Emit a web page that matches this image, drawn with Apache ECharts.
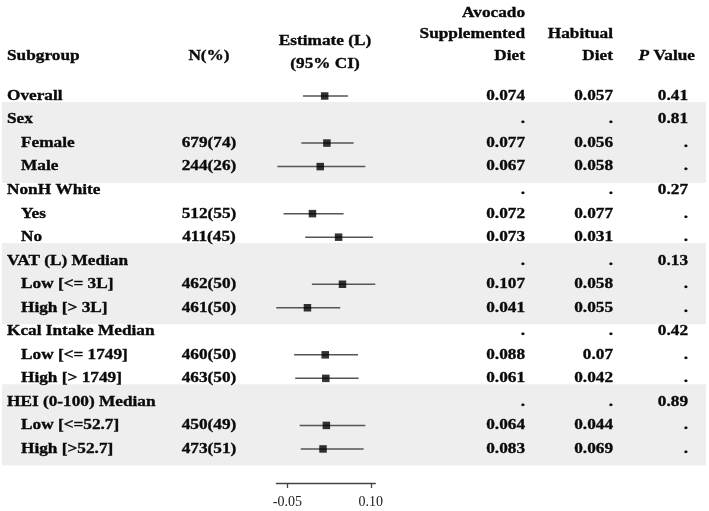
<!DOCTYPE html>
<html><head><meta charset="utf-8">
<script src="https://cdn.jsdelivr.net/npm/echarts@6/dist/echarts.min.js"></script>
<style>html,body{margin:0;padding:0;background:#fff}#c{width:709px;height:511px}</style>
</head><body><div id="c"></div>
<script>
// ---------- data ----------
const subgroups = ['Overall','Sex','Female','Male','NonH White','Yes','No','VAT (L) Median','Low [<= 3L]','High [> 3L]','Kcal Intake Median','Low [<= 1749]','High [> 1749]','HEI (0-100) Median','Low [<=52.7]','High [>52.7]'];
const levels = [0,0,1,1,0,1,1,0,1,1,0,1,1,0,1,1];
const nPct = ['','','679(74)','244(26)','','512(55)','411(45)','','462(50)','461(50)','','460(50)','463(50)','','450(49)','473(51)'];
const avocado = ['0.074','.','0.077','0.067','.','0.072','0.073','.','0.107','0.041','.','0.088','0.061','.','0.064','0.083'];
const habitual = ['0.057','.','0.056','0.058','.','0.077','0.031','.','0.058','0.055','.','0.07','0.042','.','0.044','0.069'];
const pValues = ['0.41','0.81','.','.','0.27','.','.','0.13','.','.','0.42','.','.','0.89','.','.'];
const estRows = [0,2,3,5,6,8,9,11,12,14,15];
const estimate = [0.017,0.021,0.009,-0.005,0.042,0.049,-0.014,0.018,0.019,0.020,0.014];
const ciLow = [-0.022,-0.025,-0.068,-0.057,-0.018,-0.006,-0.070,-0.038,-0.036,-0.028,-0.026];
const ciHigh = [0.059,0.069,0.090,0.051,0.104,0.108,0.045,0.077,0.078,0.090,0.087];
const axisTicks = [-0.05, 0.10];
const shadedGroups = ['Sex','VAT (L) Median','HEI (0-100) Median'];
const headSubgroup = ['Subgroup'];
const headN = ['N(%)'];
const headEstimate = ['Estimate (L)','(95% CI)'];
const headAvocado = ['Avocado','Supplemented','Diet'];
const headHabitual = ['Habitual','Diet'];
const headP = ['{i|P} Value'];

// ---------- layout ----------
const W = 709, H = 511;
const ROW0 = 96, ROWH = 23.53, YMIN = -1, YMAX = 16.45;
const gridTop = ROW0 + YMIN*ROWH;
const gridBot = H - (ROW0 + YMAX*ROWH);
const FAM = "'Liberation Serif','Times New Roman',serif";
const FONT = "bold 15px " + FAM;
const INK = '#0a0a0a';
const SX = 1.15;
const COL = {sub0:7, sub1:21, n:209, avo:525, hab:613, p:688};

function txt(x, y, text, align, extra){
  return Object.assign({type:'text', x:x, y:y, scaleX:SX, silent:true,
    style:{text:text, x:0, y:0, font:FONT, fill:INK, stroke:INK, lineWidth:0.35,
      align:align, textAlign:align, verticalAlign:'middle', textVerticalAlign:'middle'}}, extra||{});
}

const headerSpecs = [
  {lines:headSubgroup, x:7, align:'left', last:56, gap:21.5},
  {lines:headN, x:209, align:'center', last:56, gap:21.5},
  {lines:headEstimate, x:325, align:'center', last:64, gap:22.5},
  {lines:headAvocado, x:525, align:'right', last:56, gap:21.5},
  {lines:headHabitual, x:613, align:'right', last:56, gap:21.5},
  {lines:headP, x:695, align:'right', last:56, gap:21.5}
];
const graphics = [];
headerSpecs.forEach(h => {
  h.lines.forEach((l, k) => {
    const y = h.last - (h.lines.length-1-k)*h.gap;
    const g = txt(h.x, y, l, h.align);
    g.style.rich = {i:{font:"italic bold 15px " + FAM, fill:INK, textStroke:INK, textStrokeWidth:0.35}};
    graphics.push(g);
  });
});

const bandRows = shadedGroups.map(g => subgroups.indexOf(g));

const chart = echarts.init(document.getElementById('c'), null, {renderer:'canvas'});
chart.setOption({
  animation:false,
  backgroundColor:'#fff',
  graphic: graphics,
  grid:[
    {left:0, right:0, top:gridTop, bottom:gridBot},
    {left:276.3, width:99, top:gridTop, bottom:gridBot}
  ],
  xAxis:[
    {gridIndex:0, type:'value', min:0, max:W, show:false},
    {gridIndex:1, type:'value', position:'bottom', min:Math.min(...ciLow), max:Math.max(...ciHigh),
      axisLine:{show:true, onZero:false, lineStyle:{color:'#444', width:1.3}},
      axisTick:{show:true, customValues:axisTicks, length:5, inside:false, lineStyle:{color:'#444', width:1.3}},
      axisLabel:{show:true, customValues:axisTicks, formatter:v => v.toFixed(2), fontFamily:FAM, fontSize:14, color:'#222', margin:12},
      splitLine:{show:false}}
  ],
  yAxis:[
    {gridIndex:0, type:'value', inverse:true, min:YMIN, max:YMAX, show:false},
    {gridIndex:1, type:'value', inverse:true, min:YMIN, max:YMAX, show:false}
  ],
  series:[
    {type:'custom', xAxisIndex:0, yAxisIndex:0, z:1, silent:true,
      data: bandRows.map(r => [0, r]),
      renderItem:(params, api) => {
        const r = api.value(1);
        const p1 = api.coord([2, r-0.75]);
        const p2 = api.coord([706, r+2.7]);
        return {type:'rect', shape:{x:p1[0], y:p1[1], width:p2[0]-p1[0], height:p2[1]-p1[1]}, style:{fill:'#eeeeee'}};
      }},
    {type:'custom', xAxisIndex:0, yAxisIndex:0, z:5, silent:true,
      data: subgroups.map((s,i) => [0, i]),
      renderItem:(params, api) => {
        const i = api.value(1);
        const X = v => api.coord([v, i])[0];
        const y = api.coord([0, i])[1];
        return {type:'group', children:[
          txt(X(levels[i] ? COL.sub1 : COL.sub0), y, subgroups[i], 'left'),
          txt(X(COL.n), y, nPct[i], 'center'),
          txt(X(COL.avo), y, avocado[i], 'right'),
          txt(X(COL.hab), y, habitual[i], 'right'),
          txt(X(COL.p), y, pValues[i], 'right')
        ]};
      }},
    {type:'custom', xAxisIndex:1, yAxisIndex:1, z:6, silent:true,
      data: estRows.map((r,k) => [ciLow[k], ciHigh[k], r]),
      encode:{x:[0,1], y:2},
      renderItem:(params, api) => {
        const a = api.coord([api.value(0), api.value(2)]);
        const b = api.coord([api.value(1), api.value(2)]);
        return {type:'line', shape:{x1:a[0], y1:a[1], x2:b[0], y2:b[1]}, style:{stroke:'#555', lineWidth:1.5}};
      }},
    {type:'scatter', xAxisIndex:1, yAxisIndex:1, z:7, silent:true,
      symbol:'rect', symbolSize:7.5, itemStyle:{color:'#000'},
      data: estRows.map((r,k) => [estimate[k], r])}
  ]
});
</script></body></html>
